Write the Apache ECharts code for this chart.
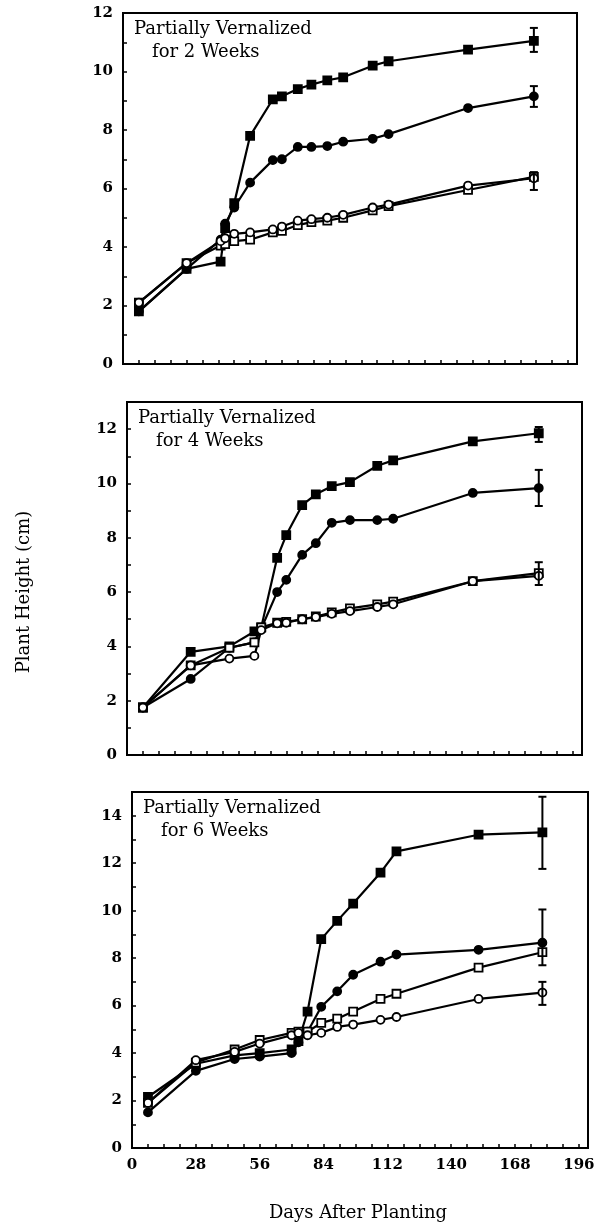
<!DOCTYPE html>
<html>
<head>
<meta charset="utf-8">
<script src="https://cdn.jsdelivr.net/npm/echarts@6/dist/echarts.min.js"></script>
<style>
html,body{margin:0;padding:0;background:#fff;}
#chart{width:598px;height:1228px;}
</style>
</head>
<body>
<div id="chart"></div>
<script>
// ---- Data ----
const xTicks = [0, 28, 56, 84, 112, 140, 168, 196];
const yTicks = [0, 2, 4, 6, 8, 10, 12, 14];
const panelTitles = [
  ['Partially Vernalized', 'for 2 Weeks'],
  ['Partially Vernalized', 'for 4 Weeks'],
  ['Partially Vernalized', 'for 6 Weeks']
];

// Panel 1: 2 weeks
const days1 = [7, 28, 43, 45, 49, 56, 66, 70, 77, 83, 90, 97, 110, 117, 152, 181];
const p1FilledSq = [1.8, 3.25, 3.5, 4.65, 5.5, 7.8, 9.05, 9.15, 9.4, 9.55, 9.7, 9.8, 10.2, 10.35, 10.75, 11.05];
const p1FilledCi = [1.8, 3.25, 4.25, 4.8, 5.35, 6.2, 6.97, 7.0, 7.42, 7.42, 7.45, 7.6, 7.7, 7.86, 8.75, 9.15];
const p1OpenCi   = [2.1, 3.45, 4.2, 4.3, 4.45, 4.5, 4.6, 4.7, 4.9, 4.95, 5.0, 5.1, 5.35, 5.45, 6.1, 6.35];
const p1OpenSq   = [2.1, 3.45, 4.05, 4.1, 4.2, 4.25, 4.5, 4.55, 4.75, 4.85, 4.9, 5.0, 5.25, 5.4, 5.95, 6.4];
const p1ErrDay  = [181, 181, 181];
const p1ErrLow  = [10.67, 8.79, 5.95];
const p1ErrHigh = [11.49, 9.5, 6.56];

// Panel 2: 4 weeks
const days2 = [7, 28, 45, 56, 59, 66, 70, 77, 83, 90, 98, 110, 117, 152, 181];
const p2FilledSq = [1.75, 3.8, 4.0, 4.55, 4.7, 7.26, 8.1, 9.2, 9.6, 9.9, 10.05, 10.65, 10.85, 11.55, 11.85];
const p2FilledCi = [1.75, 2.8, 3.95, 4.15, 4.65, 6.0, 6.45, 7.37, 7.8, 8.55, 8.65, 8.65, 8.7, 9.65, 9.83];
const p2OpenCi   = [1.75, 3.3, 3.55, 3.65, 4.6, 4.85, 4.87, 5.0, 5.08, 5.2, 5.3, 5.45, 5.55, 6.4, 6.6];
const p2OpenSq   = [1.75, 3.3, 3.95, 4.15, 4.7, 4.87, 4.9, 5.0, 5.1, 5.25, 5.4, 5.55, 5.65, 6.4, 6.7];
const p2ErrDay  = [181, 181, 181];
const p2ErrLow  = [11.53, 9.17, 6.26];
const p2ErrHigh = [12.08, 10.5, 7.1];

// Panel 3: 6 weeks
const days3 = [7, 28, 45, 56, 70, 73, 77, 83, 90, 97, 109, 116, 152, 180];
const p3FilledSq = [2.15, 3.55, 3.9, 4.0, 4.15, 4.5, 5.75, 8.8, 9.57, 10.3, 11.6, 12.5, 13.2, 13.3];
const p3FilledCi = [1.5, 3.25, 3.75, 3.85, 4.0, 4.45, 4.9, 5.95, 6.6, 7.3, 7.85, 8.15, 8.35, 8.65];
const p3OpenSq   = [1.9, 3.6, 4.15, 4.55, 4.85, 4.9, 4.9, 5.27, 5.45, 5.75, 6.28, 6.5, 7.6, 8.25];
const p3OpenCi   = [1.9, 3.7, 4.05, 4.4, 4.75, 4.85, 4.75, 4.85, 5.1, 5.2, 5.4, 5.52, 6.28, 6.55];
const p3ErrDay  = [180, 180, 180];
const p3ErrLow  = [11.76, 7.7, 6.03];
const p3ErrHigh = [14.8, 10.05, 7.0];

// ---- Layout / style ----
const grids = [
  {left: 123, top: 13, width: 454, height: 351},
  {left: 127, top: 402, width: 455, height: 353},
  {left: 132, top: 792, width: 456, height: 356}
];
const yMax = [12, 13, 15];
const numFont = 'DejaVu Serif';

const zip = (xs, ys) => xs.map((x, i) => [x, ys[i]]);

function lineSeries(idx, days, vals, symbol, filled) {
  return {
    type: 'line', xAxisIndex: idx, yAxisIndex: idx,
    data: zip(days, vals),
    symbol: symbol, symbolSize: filled ? 8 : 8, showSymbol: true,
    lineStyle: {color: '#000', width: 2.2},
    itemStyle: {color: filled ? '#000' : '#fff', borderColor: '#000', borderWidth: 1.8},
    z: filled ? 3 : 4, animation: false
  };
}
function errSeries(idx, d, lo, hi) {
  return {
    type: 'custom', xAxisIndex: idx, yAxisIndex: idx,
    data: d.map((x, i) => [x, lo[i], hi[i]]),
    encode: {x: 0, y: [1, 2]},
    renderItem: function (params, api) {
      const x = api.value(0);
      const a = api.coord([x, api.value(1)]);
      const b = api.coord([x, api.value(2)]);
      const w = 4;
      const st = {stroke: '#000', lineWidth: 2};
      return {type: 'group', children: [
        {type: 'line', shape: {x1: a[0], y1: a[1], x2: b[0], y2: b[1]}, style: st},
        {type: 'line', shape: {x1: a[0] - w, y1: a[1], x2: a[0] + w, y2: a[1]}, style: st},
        {type: 'line', shape: {x1: b[0] - w, y1: b[1], x2: b[0] + w, y2: b[1]}, style: st}
      ]};
    },
    z: 5, animation: false
  };
}

const xAxes = grids.map((g, i) => ({
  type: 'value', gridIndex: i, min: 0, max: 200, interval: 7,
  axisLine: {show: true, lineStyle: {color: '#000', width: 2}},
  axisTick: {show: true, inside: true, length: 4, lineStyle: {color: '#000', width: 1.5}},
  splitLine: {show: false},
  axisLabel: {
    show: i === 2, color: '#000', fontFamily: numFont, fontWeight: 'bold', fontSize: 15, margin: 10,
    formatter: v => (xTicks.indexOf(v) >= 0 ? String(v) : '')
  }
}));
const yAxes = grids.map((g, i) => ({
  type: 'value', gridIndex: i, min: 0, max: yMax[i], interval: 1,
  axisLine: {show: true, lineStyle: {color: '#000', width: 2}},
  axisTick: {show: true, inside: true, length: 4, lineStyle: {color: '#000', width: 1.5}},
  splitLine: {show: false},
  axisLabel: {
    color: '#000', fontFamily: numFont, fontWeight: 'bold', fontSize: 15, margin: 10,
    formatter: v => (yTicks.indexOf(v) >= 0 ? String(v) : '')
  }
}));

const series = [
  lineSeries(0, days1, p1OpenSq, 'rect', false),
  lineSeries(0, days1, p1OpenCi, 'circle', false),
  lineSeries(0, days1, p1FilledCi, 'circle', true),
  lineSeries(0, days1, p1FilledSq, 'rect', true),
  errSeries(0, p1ErrDay, p1ErrLow, p1ErrHigh),
  lineSeries(1, days2, p2OpenSq, 'rect', false),
  lineSeries(1, days2, p2OpenCi, 'circle', false),
  lineSeries(1, days2, p2FilledCi, 'circle', true),
  lineSeries(1, days2, p2FilledSq, 'rect', true),
  errSeries(1, p2ErrDay, p2ErrLow, p2ErrHigh),
  lineSeries(2, days3, p3OpenSq, 'rect', false),
  lineSeries(2, days3, p3OpenCi, 'circle', false),
  lineSeries(2, days3, p3FilledCi, 'circle', true),
  lineSeries(2, days3, p3FilledSq, 'rect', true),
  errSeries(2, p3ErrDay, p3ErrLow, p3ErrHigh)
];

const titleGraphics = [];
grids.forEach((g, i) => {
  titleGraphics.push({type: 'text', x: g.left + 11, y: g.top + 16,
    style: {text: panelTitles[i][0], font: '18px "DejaVu Serif"', fill: '#000', verticalAlign: 'middle'}});
  titleGraphics.push({type: 'text', x: g.left + 29, y: g.top + 39,
    style: {text: panelTitles[i][1], font: '18px "DejaVu Serif"', fill: '#000', verticalAlign: 'middle'}});
});
titleGraphics.push({type: 'text', x: 24, y: 592, rotation: Math.PI / 2,
  style: {text: 'Plant Height (cm)', font: '18px "DejaVu Serif"', fill: '#000', align: 'center', verticalAlign: 'middle'}});
titleGraphics.push({type: 'text', x: 358, y: 1213,
  style: {text: 'Days After Planting', font: '18px "DejaVu Serif"', fill: '#000', align: 'center', verticalAlign: 'middle'}});

const chart = echarts.init(document.getElementById('chart'), null, {renderer: 'canvas'});
chart.setOption({
  backgroundColor: '#fff',
  animation: false,
  grid: grids.map(g => Object.assign({show: true, borderColor: '#000', borderWidth: 2, backgroundColor: 'transparent'}, g)),
  xAxis: xAxes,
  yAxis: yAxes,
  series: series,
  graphic: titleGraphics
});
</script>
</body>
</html>
